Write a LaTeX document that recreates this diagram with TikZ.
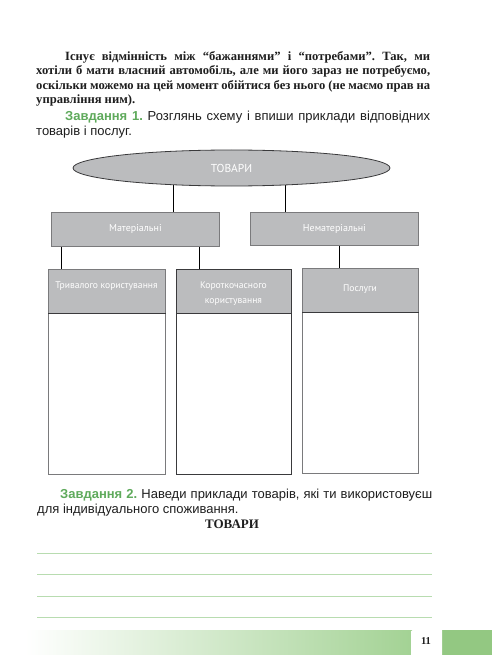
\documentclass[tikz,border=0pt]{standalone}
\usepackage{fontspec}
\setmainfont{Liberation Serif}
\newfontfamily\tsans{Liberation Sans}
\newfontfamily\dsans{PT Sans}
\usetikzlibrary{shapes.geometric}
\definecolor{boxgray}{HTML}{BBBCBE}
\definecolor{edgegray}{HTML}{7A7A7C}
\definecolor{edgedark}{HTML}{3A3A3C}
\definecolor{taskgreen}{HTML}{5FAA5C}
\definecolor{rulegreen}{HTML}{B8DCB0}
\definecolor{bandgreen}{HTML}{A3D294}
\definecolor{bandright}{HTML}{93C882}
\definecolor{ink}{HTML}{1E1E1E}
\pgfdeclarelayer{background}\pgfsetlayers{background,main}
\frenchspacing
\begin{document}
\begin{tikzpicture}[x=1pt,y=-1pt,
  para/.style={anchor=base west, inner sep=0, text=ink, font=\fontsize{12.6}{14}\selectfont\bfseries},
  task/.style={anchor=base west, inner sep=0, text=ink, font=\tsans\fontsize{13}{14}\selectfont},
  catbox/.style={draw=edgegray, fill=boxgray, line width=0.8pt, anchor=north west, inner sep=0, minimum width=168pt, minimum height=34pt, text=white, font=\dsans\fontsize{10}{12}\selectfont},
  hdr/.style={draw=edgegray, fill=boxgray, line width=0.8pt, anchor=north west, inner sep=0, minimum height=44pt},
  hdrtext/.style={inner sep=0, text=white, align=center, font=\dsans\fontsize{9.6}{15}\selectfont},
  bodybox/.style={draw=edgegray, fill=white, line width=0.9pt, anchor=north west, inner sep=0, minimum height=161pt},
  link/.style={draw=black, line width=0.7pt},
  rule/.style={draw=rulegreen, line width=0.7pt}
]
\useasboundingbox (0,0) rectangle (492,655);
\begin{pgfonlayer}{background}
\fill[white] (0,0) rectangle (492,655);
\end{pgfonlayer}

% ---- paragraph ----
\node[para] (p1) at (65,60.5) {\hbox to 365pt{Існує відмінність між “бажаннями” і “потребами”. Так, ми}};
\node[para] (p2) at (36,75) {\hbox to 394pt{хотіли б мати власний автомобіль, але ми його зараз не потребуємо,}};
\node[para] (p3) at (36,89.5) {\hbox to 394pt{оскільки можемо на цей момент обійтися без нього (не маємо прав на}};
\node[para] (p4) at (36,104) {управління ним).};

% ---- task 1 ----
\node[task] (t1a) at (65,121) {\hbox to 365pt{\textcolor{taskgreen}{\bfseries Завдання 1.} Розглянь схему і впиши приклади відповідних}};
\node[task] (t1b) at (36,135.5) {товарів і послуг.};

% ---- diagram ----
\node[ellipse, draw=edgedark, fill=boxgray, line width=0.8pt, minimum width=317pt, minimum height=36pt, inner sep=0, text=white, font=\dsans\fontsize{11.5}{12}\selectfont] (ell) at (231.5,168) {ТОВАРИ};

\node[catbox] (mat) at (51,212) {Матеріальні};
\node[catbox, minimum height=33pt] (nemat) at (250,212) {Нематеріальні};

\node[bodybox, minimum width=117pt] (b1) at (48,313) {};
\node[bodybox, draw=edgedark, minimum width=115pt] (b2) at (176,313) {};
\node[bodybox, minimum width=116pt] (b3) at (302,312) {};

\node[hdr, minimum width=117pt] (h1) at (48,269) {};
\node[hdr, draw=edgedark, minimum width=115pt] (h2) at (176,269) {};
\node[hdr, minimum width=116pt] (h3) at (302,268) {};
\draw[edgedark, line width=1.1pt] (h1.south west) -- (h1.south east);
\draw[edgedark, line width=1.1pt] (h2.south west) -- (h2.south east);
\draw[edgedark, line width=1.1pt] (h3.south west) -- (h3.south east);

\node[hdrtext] (h1t) at (106.5,286) {Тривалого користування};
\node[hdrtext] (h2t) at (233.5,293.5) {Короткочасного\\користування};
\node[hdrtext] (h3t) at (360,289) {Послуги};

\coordinate (xa) at (173,0);
\coordinate (xb) at (285,0);
\coordinate (xc) at (61,0);
\coordinate (xd) at (199,0);
\coordinate (xe) at (339,0);
\begin{pgfonlayer}{background}
\draw[link] (ell.center -| xa) -- (mat.north -| xa);
\draw[link] (ell.center -| xb) -- (nemat.north -| xb);
\draw[link] (mat.south -| xc) -- (h1.north -| xc);
\draw[link] (mat.south -| xd) -- (h2.north -| xd);
\draw[link] (nemat.south -| xe) -- (h3.north -| xe);
\end{pgfonlayer}

% ---- task 2 ----
\node[task] (t2a) at (60,498) {\hbox to 372pt{\textcolor{taskgreen}{\bfseries Завдання 2.} Наведи приклади товарів, які ти використовуєш}};
\node[task] (t2b) at (37,513) {для індивідуального споживання.};
\node[anchor=base, inner sep=0, text=ink, font=\fontsize{13}{14}\selectfont\bfseries] (tov) at (232,528) {ТОВАРИ};

\coordinate (r1l) at (37,553); \coordinate (r1r) at (432,553);
\coordinate (r2l) at (37,574); \coordinate (r2r) at (432,574);
\coordinate (r3l) at (37,596); \coordinate (r3r) at (432,596);
\coordinate (r4l) at (37,617); \coordinate (r4r) at (432,617);
\draw[rule] (r1l) -- (r1r);
\draw[rule] (r2l) -- (r2r);
\draw[rule] (r3l) -- (r3r);
\draw[rule] (r4l) -- (r4r);

% ---- bottom band ----
\shade[left color=white, right color=bandgreen] (25,630) rectangle (412,655);
\fill[bandright] (441,630) rectangle (492,655);
\fill[white] (411,631) .. controls (420,628) and (432,633) .. (442,630) -- (442,655) -- (411,655) -- cycle;
\node[inner sep=0, text=ink, font=\fontsize{10.5}{12}\selectfont\bfseries] (pg) at (426,641) {11};
\end{tikzpicture}
\end{document}
